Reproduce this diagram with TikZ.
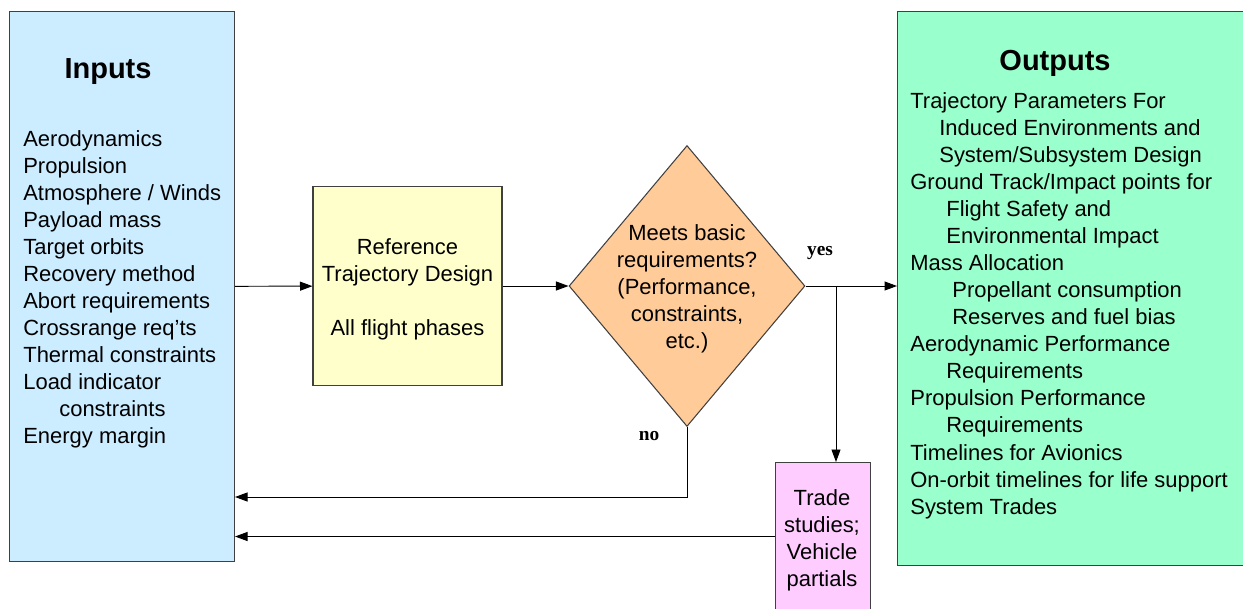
\documentclass[tikz,border=0pt]{standalone}
\usepackage{fontspec}
\setmainfont{Liberation Sans}
\newfontfamily\lblfont{Liberation Serif}
\usepackage{tikz}
\usetikzlibrary{shapes.geometric}
\usetikzlibrary{arrows.meta}
\usetikzlibrary{positioning}

\definecolor{inblue}{HTML}{CCECFF}
\definecolor{refyellow}{HTML}{FFFFCC}
\definecolor{checkorange}{HTML}{FFCC99}
\definecolor{outgreen}{HTML}{99FFCC}
\definecolor{tradepink}{HTML}{FFCCFF}

\begin{document}
\begin{tikzpicture}[
    x=0.02cm, y=-0.02cm,
    box/.style={draw=black!75, line width=0.6pt, inner sep=0pt},
    txt/.style={font=\fontsize{12.5}{15.4}\selectfont, inner sep=0pt},
    head/.style={font=\fontsize{16.5}{20}\selectfont\bfseries, inner sep=0pt},
    lbl/.style={font=\lblfont\bfseries\fontsize{11}{13}\selectfont, inner sep=0pt},
    arrow/.style={-{Triangle[length=0.25cm, width=0.18cm]}, line width=0.55pt}
]
  \useasboundingbox (0,0) rectangle (1243,608);
  \clip (0,0) rectangle (1243,608);

  % Inputs (left)
  \node[box, fill=inblue, minimum width=4.5cm, minimum height=11cm, anchor=north west] (inputs) at (9,11) {};
  \node[head] (intitle) at (108,72) {Inputs};
  \node[txt, align=left, anchor=north west] (inlist) at (23,130) {Aerodynamics\\Propulsion\\Atmosphere / Winds\\Payload mass\\Target orbits\\Recovery method\\Abort requirements\\Crossrange req'ts\\Thermal constraints\\Load indicator\\\hspace*{0.72cm}constraints\\Energy margin};

  % Reference trajectory design
  \node[box, fill=refyellow, minimum width=3.78cm, minimum height=3.98cm] (refdesign) at (407.5,286) {};
  \node[txt, align=center] (reftext) at (407.5,289) {Reference\\Trajectory Design\\[15.4pt]All flight phases};

  % Decision
  \node[box, diamond, fill=checkorange, minimum width=4.72cm, minimum height=5.62cm] (check) at (687,286) {};
  \node[txt, align=center] (checktext) at (687,289) {Meets basic\\requirements?\\(Performance,\\constraints,\\etc.)};

  % Outputs (right)
  \node[box, fill=outgreen, minimum width=8cm, minimum height=11.08cm, anchor=north west] (outputs) at (897,11) {};
  \node[head] (outtitle) at (1055,63) {Outputs};
  \node[txt, align=left, anchor=north west] (outlist) at (910,92) {Trajectory Parameters For\\
    \hspace*{0.58cm}Induced Environments and\\
    \hspace*{0.58cm}System/Subsystem Design\\
    Ground Track/Impact points for\\
    \hspace*{0.72cm}Flight Safety and\\
    \hspace*{0.72cm}Environmental Impact\\
    Mass Allocation\\
    \hspace*{0.84cm}Propellant consumption\\
    \hspace*{0.84cm}Reserves and fuel bias\\
    Aerodynamic Performance\\
    \hspace*{0.72cm}Requirements\\
    Propulsion Performance\\
    \hspace*{0.72cm}Requirements\\
    Timelines for Avionics\\
    On-orbit timelines for life support\\
    System Trades};

  % Trade studies
  \node[box, fill=tradepink, minimum width=1.9cm, minimum height=2.96cm, anchor=north west] (trade) at (775,462) {};
  \node[txt, align=center] (tradetext) at (822,540) {Trade\\studies;\\Vehicle\\partials};

  % Turning points
  \coordinate (split) at (836,286);
  \coordinate (noturn) at (687,497);

  % Arrows
  \draw[arrow] (inputs) -- (refdesign);
  \draw[arrow] (refdesign) -- (check);
  \draw[arrow] (check.east) -- (check.east -| outputs.west);
  \draw[arrow] (split) -- (split |- trade.north);
  \draw[arrow] (check.south) -- (noturn) -- (noturn -| inputs.east);
  \draw[arrow] (trade.west) -- (trade.west -| inputs.east);

  % Branch labels
  \node[lbl] (yeslbl) at (820,253) {yes};
  \node[lbl] (nolbl) at (649,436) {no};

\end{tikzpicture}
\end{document}
